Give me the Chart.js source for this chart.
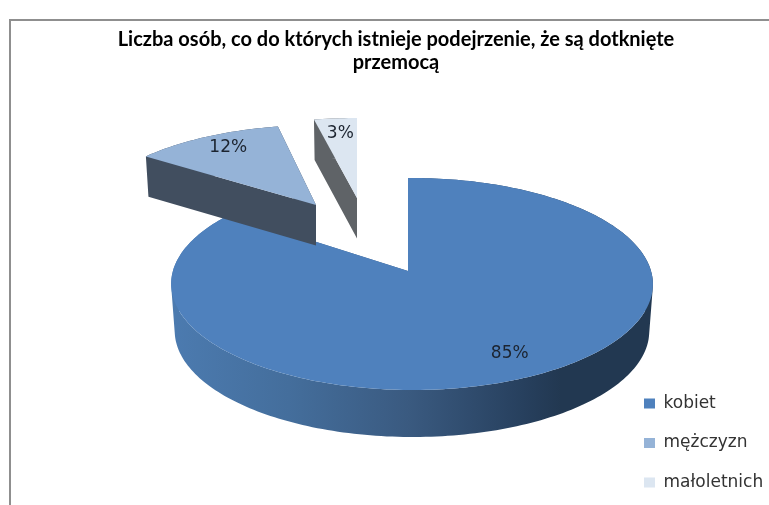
<!DOCTYPE html>
<html lang="pl">
<head>
<meta charset="utf-8">
<style>
html,body{margin:0;padding:0;background:#fff;width:769px;height:505px;overflow:hidden}
#frame{position:absolute;left:9px;top:19px;width:770px;height:500px;border-left:2px solid #8f8f8f;border-top:2px solid #8f8f8f}
#wrap{position:absolute;left:0;top:0;width:769px;height:505px}
</style>
<script src="https://cdn.jsdelivr.net/npm/chart.js@4/dist/chart.umd.js"></script>
</head>
<body>
<div id="frame"></div>
<div id="wrap"><canvas id="c" width="769" height="505"></canvas></div>
<script>
const titleLines = ['Liczba osób, co do których istnieje podejrzenie, że są dotknięte', 'przemocą'];
const categories = ['kobiet', 'mężczyzn', 'małoletnich'];
const shareValues = [85, 12, 3];
const topColors = ['#4f81bd', '#95b3d7', '#dce6f1'];
const wallColors = [null, '#414e5f', '#5f6367'];
// exploded-slice styling, relative to the chart's own pie centre
const sliceOffsets = [[12, 0], [-80, -66], [-39, -73]];
const sliceScales = [[1, 1], [0.955, 0.86], [1.08, 0.86]];
const labelNudges = [[6, 0], [2, -2], [1, 1]];
// perspective model of the tilted pie
const VIEW = {halfWidth: 239, halfDepth: 104.4, k: 0.1226, m: -0.0166, depth: 47, wallShrink: 0.985};
const LABEL_RADIUS = 0.8;

const ArcElement = Chart.registry.getElement('arc');
const PieController = Chart.registry.getController('pie');

class Arc3D extends ArcElement {
  static id = 'arc3d';
  project(f, theta, i, lower) {
    const u = f * Math.sin(theta), v = f * Math.cos(theta);
    const w = 1 + VIEW.k * v + VIEW.m * u;
    const [dx, dy] = sliceOffsets[i];
    const [sx, sy] = sliceScales[i];
    const shrink = lower ? VIEW.wallShrink : 1;
    return [
      this.x + dx + shrink * VIEW.halfWidth * sx * u / w,
      this.y + dy - VIEW.halfDepth * sy * v / w + (lower ? VIEW.depth * sy : 0)
    ];
  }
  arcPoints(i, lower) {
    const a = this.startAngle + Math.PI / 2, b = this.endAngle + Math.PI / 2;
    const n = Math.max(8, Math.ceil((b - a) * 48));
    const pts = [];
    for (let s = 0; s <= n; s++) pts.push(this.project(1, a + (b - a) * s / n, i, lower));
    return pts;
  }
  draw3d(ctx, i) {
    const top = this.arcPoints(i, false), low = this.arcPoints(i, true);
    const tipT = this.project(0, 0, i, false), tipL = this.project(0, 0, i, true);
    let fill = wallColors[i];
    if (!fill) {
      const g = ctx.createLinearGradient(tipT[0] - VIEW.halfWidth, 0, tipT[0] + VIEW.halfWidth, 0);
      g.addColorStop(0, '#4c7bb0');
      g.addColorStop(0.25, '#446e9c');
      g.addColorStop(0.5, '#3a5a80');
      g.addColorStop(0.74, '#27405e');
      g.addColorStop(0.82, '#223851');
      g.addColorStop(1, '#223851');
      fill = g;
    }
    const addPoly = (pts) => {
      let area = 0;
      pts.forEach((p, n) => {
        const q = pts[(n + 1) % pts.length];
        area += p[0] * q[1] - q[0] * p[1];
      });
      const ordered = area < 0 ? pts.slice().reverse() : pts;
      ordered.forEach((p, n) => n ? ctx.lineTo(p[0], p[1]) : ctx.moveTo(p[0], p[1]));
      ctx.closePath();
    };
    ctx.beginPath();
    for (let s = 0; s + 1 < top.length; s++) {
      addPoly([top[s], top[s + 1], low[s + 1], low[s]]);
    }
    addPoly([tipT, top[0], low[0], tipL]);
    addPoly([tipT, top[top.length - 1], low[low.length - 1], tipL]);
    ctx.fillStyle = fill;
    ctx.fill();

    ctx.beginPath();
    addPoly([tipT].concat(top));
    ctx.fillStyle = this.options.backgroundColor;
    ctx.fill();
  }
}

class Pie3DController extends PieController {
  static id = 'pie3d';
  static defaults = {dataElementType: 'arc3d'};
  draw() {
    const ctx = this.chart.ctx;
    this._cachedMeta.data.forEach((el, i) => el.draw3d(ctx, i));
  }
}
Chart.register(Arc3D, Pie3DController);

const sliceLabels = {
  id: 'sliceLabels',
  afterDatasetsDraw(chart) {
    const ctx = chart.ctx;
    ctx.save();
    ctx.font = '17px "DejaVu Sans"';
    ctx.fillStyle = '#1c2430';
    ctx.textAlign = 'center';
    ctx.textBaseline = 'middle';
    chart.getDatasetMeta(0).data.forEach((el, i) => {
      const mid = (el.startAngle + el.endAngle) / 2 + Math.PI / 2;
      const p = el.project(LABEL_RADIUS, mid, i, false);
      ctx.fillText(shareValues[i] + '%', p[0] + labelNudges[i][0], p[1] + labelNudges[i][1]);
    });
    ctx.restore();
  }
};

const legendPlace = {
  id: 'legendPlace',
  beforeDraw(chart) {
    const lg = chart.legend;
    const pad = lg.options.labels.padding;
    lg.left = 644 - pad;
    lg.right = 769;
    lg.bottom = 513.5;
    lg.top = 380;
  }
};

new Chart(document.getElementById('c'), {
  type: 'pie3d',
  data: {
    labels: categories,
    datasets: [{data: shareValues, backgroundColor: topColors, borderWidth: 0, clip: false}]
  },
  plugins: [sliceLabels, legendPlace],
  options: {
    responsive: false,
    animation: false,
    layout: {padding: {left: 23, right: 0, top: 28, bottom: 37}},
    plugins: {
      tooltip: {enabled: false},
      title: {
        display: true,
        text: titleLines,
        color: '#000',
        font: {family: 'Lato', size: 20, weight: 'bold', lineHeight: 1.15},
        padding: {top: 0, bottom: 0}
      },
      legend: {
        display: true,
        position: 'chartArea',
        align: 'end',
        labels: {
          boxWidth: 11,
          boxHeight: 10,
          padding: 22.5,
          color: '#333',
          font: {family: 'DejaVu Sans', size: 17}
        }
      }
    }
  }
});
</script>
</body>
</html>
